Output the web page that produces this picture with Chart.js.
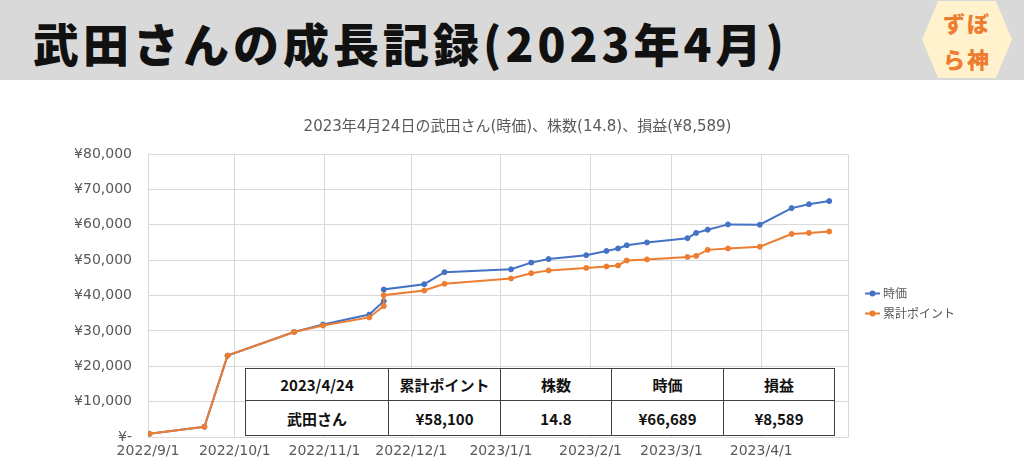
<!DOCTYPE html>
<html lang="ja">
<head>
<meta charset="utf-8">
<script src="https://cdn.jsdelivr.net/npm/chart.js@4.4.1/dist/chart.umd.min.js"></script>
<style>
html,body{margin:0;padding:0;background:#fff;}
#wrap{position:relative;width:1024px;height:471px;overflow:hidden;background:#fff;}
#chart{position:absolute;left:0;top:0;}
#band{position:absolute;left:0;top:0;width:1024px;height:80px;background:#d9d9d9;}
#headline{position:absolute;left:33px;top:14px;font-family:"Noto Sans CJK JP";font-weight:900;font-size:46px;letter-spacing:4px;line-height:56px;color:#111;white-space:nowrap;}
#badge{position:absolute;left:922px;top:1px;width:90px;height:77px;background:#fff2cc;clip-path:polygon(0 50%,18% 0,82% 0,100% 50%,82% 100%,18% 100%);}
#badge div{position:absolute;left:0;width:100%;text-align:center;font-family:"Noto Sans CJK JP";font-weight:900;font-size:22px;color:#ed7d31;letter-spacing:2px;line-height:26px;}
#tbl{position:absolute;left:245px;top:368px;border-collapse:collapse;background:#fff;font-family:"Noto Sans CJK JP";font-weight:700;font-size:15px;color:#111;table-layout:fixed;}
#tbl td{border:1px solid #404040;text-align:center;padding:0;white-space:nowrap;}
</style>
</head>
<body>
<div id="wrap">
  <canvas id="chart" width="1024" height="471"></canvas>
  <div id="band"></div>
  <div id="headline">武田さんの成長記録(2023年4月)</div>
  <div id="badge"><div style="top:8px">ずぼ</div><div style="top:44px">ら神</div></div>
  <table id="tbl">
    <colgroup><col style="width:143px"><col style="width:112px"><col style="width:111px"><col style="width:112px"><col style="width:111px"></colgroup>
    <tr style="height:32px"><td id="h0"></td><td id="h1"></td><td id="h2"></td><td id="h3"></td><td id="h4"></td></tr>
    <tr style="height:35px"><td id="r0"></td><td id="r1"></td><td id="r2"></td><td id="r3"></td><td id="r4"></td></tr>
  </table>
</div>
<script>
// ---- data ----
const chartTitle = '2023年4月24日の武田さん(時価)、株数(14.8)、損益(¥8,589)';
const seriesNames = ['時価', '累計ポイント'];
const dates = ['2022-09-01','2022-09-20','2022-09-28','2022-10-21','2022-10-31','2022-11-16','2022-11-21','2022-11-21','2022-12-05','2022-12-12','2023-01-04','2023-01-11','2023-01-17','2023-01-30','2023-02-06','2023-02-10','2023-02-13','2023-02-20','2023-03-06','2023-03-09','2023-03-13','2023-03-20','2023-03-31','2023-04-11','2023-04-17','2023-04-24'];
const marketValue = [900, 2900, 23000, 29700, 31800, 34600, 38400, 41700, 43200, 46600, 47400, 49300, 50300, 51400, 52600, 53300, 54200, 55000, 56200, 57700, 58600, 60100, 60000, 64700, 65800, 66689];
const cumulativePoints = [900, 2900, 23000, 29700, 31500, 33800, 37000, 40100, 41400, 43300, 44800, 46300, 47100, 47800, 48200, 48500, 49900, 50200, 50900, 51200, 52900, 53300, 53800, 57400, 57700, 58100];
const xTickLabels = ['2022/9/1','2022/10/1','2022/11/1','2022/12/1','2023/1/1','2023/2/1','2023/3/1','2023/4/1'];
const xEndLabel = '2023/5/1';
const yTickLabels = ['¥-','¥10,000','¥20,000','¥30,000','¥40,000','¥50,000','¥60,000','¥70,000','¥80,000'];
const tableHeader = ['2023/4/24','累計ポイント','株数','時価','損益'];
const tableRow = ['武田さん','¥58,100','14.8','¥66,689','¥8,589'];

// ---- table ----
tableHeader.forEach((t,i)=>document.getElementById('h'+i).textContent=t);
tableRow.forEach((t,i)=>document.getElementById('r'+i).textContent=t);

// ---- helpers ----
function dayOf(s){ const p = s.split(/[-\/]/).map(Number); return Date.UTC(p[0], p[1]-1, p[2]) / 86400000; }
const xPoints = dates.map(d => dayOf(d) + 0.5); // plotted at midday
const xTickValues = xTickLabels.map(dayOf);
const xMin = xTickValues[0];
const xMax = dayOf(xEndLabel);

const FONT = '"DejaVu Sans","Noto Sans CJK JP",sans-serif';
const GRID = '#d9d9d9';
const TXT = '#595959';

const sideLegend = {
  id: 'sideLegend',
  afterDraw(chart){
    const {ctx, chartArea} = chart;
    const x0 = chartArea.right + 17;
    const yc = (chartArea.top + chartArea.bottom) / 2 - 2;
    chart.data.datasets.forEach((ds, i) => {
      const y = yc + i * 20;
      ctx.save();
      ctx.strokeStyle = ds.borderColor; ctx.lineWidth = 2;
      ctx.beginPath(); ctx.moveTo(x0, y); ctx.lineTo(x0 + 15, y); ctx.stroke();
      ctx.fillStyle = ds.borderColor;
      ctx.beginPath(); ctx.arc(x0 + 7.5, y, 3, 0, Math.PI * 2); ctx.fill();
      ctx.fillStyle = TXT; ctx.font = '12px "Noto Sans CJK JP"';
      ctx.textBaseline = 'middle'; ctx.textAlign = 'left';
      ctx.fillText(ds.label, x0 + 18, y);
      ctx.restore();
    });
  }
};

const mk = (vals) => vals.map((v, i) => ({x: xPoints[i], y: v}));

new Chart(document.getElementById('chart'), {
  type: 'line',
  data: {
    datasets: [
      { label: seriesNames[0], data: mk(marketValue), borderColor: '#4472c4', backgroundColor: '#4472c4',
        pointBackgroundColor: '#4472c4', pointBorderColor: '#4472c4', borderWidth: 2, pointRadius: 2.5, pointBorderWidth: 1, order: 1, tension: 0 },
      { label: seriesNames[1], data: mk(cumulativePoints), borderColor: '#ed7d31', backgroundColor: '#ed7d31',
        pointBackgroundColor: '#ed7d31', pointBorderColor: '#ed7d31', borderWidth: 2, pointRadius: 2.5, pointBorderWidth: 1, order: 0, tension: 0 }
    ]
  },
  options: {
    responsive: false,
    animation: false,
    devicePixelRatio: 1,
    layout: { padding: { left: 11, right: 0, top: 0, bottom: 0 } },
    plugins: {
      legend: { display: false },
      tooltip: { enabled: false },
      title: { display: true, text: chartTitle, color: TXT, font: { family: FONT, size: 15, weight: 'normal' }, padding: { top: 118, bottom: 18 } }
    },
    scales: {
      x: {
        type: 'linear', min: xMin, max: xMax,
        grid: { color: GRID, lineWidth: 1, drawTicks: false },
        border: { color: GRID },
        afterBuildTicks(s){ s.ticks = xTickValues.concat([xMax]).map(v => ({value: v})); },
        afterFit(s){ s.height = 34; },
        ticks: { autoSkip: false, maxRotation: 0, minRotation: 0, padding: 6, color: TXT, font: { family: FONT, size: 14 },
          callback: (v, i) => xTickLabels[i] || '' }
      },
      y: {
        min: 0, max: 80000,
        grid: { color: GRID, lineWidth: 1, drawTicks: false },
        border: { color: GRID },
        afterFit(s){ s.width = 137; },
        ticks: { stepSize: 10000, padding: 16, color: TXT, font: { family: FONT, size: 14 },
          callback: (v, i) => yTickLabels[i] }
      },
      y2: {
        position: 'right', display: true,
        grid: { display: false }, border: { display: false }, ticks: { display: false },
        afterFit(s){ s.width = 176; }
      }
    }
  },
  plugins: [sideLegend]
});
</script>
</body>
</html>
